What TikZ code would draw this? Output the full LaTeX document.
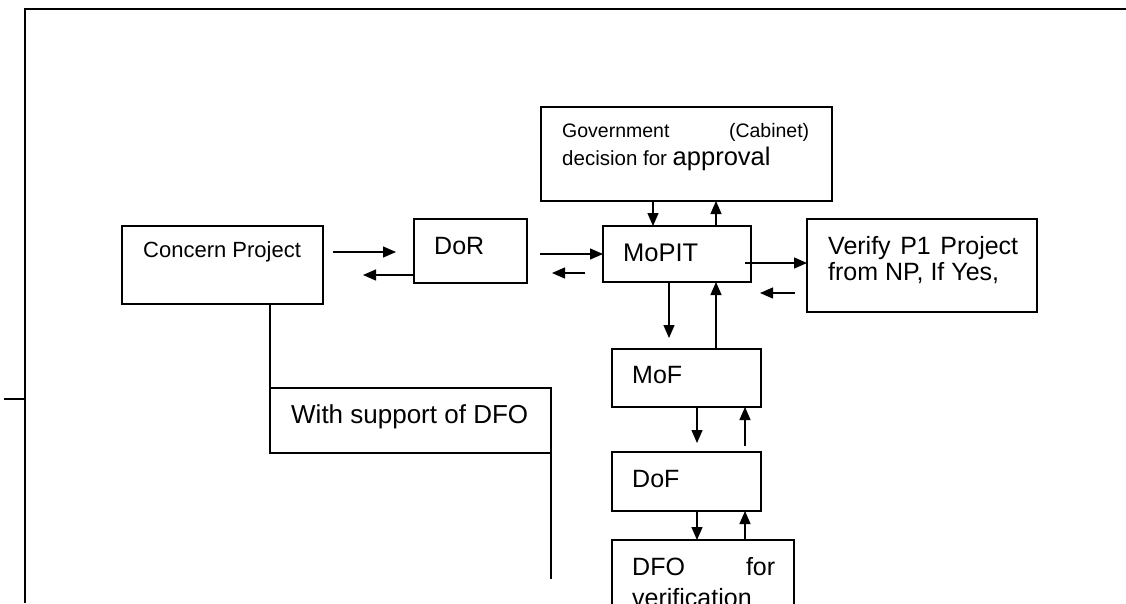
\documentclass[tikz,border=0pt]{standalone}
\usepackage{fontspec}
\setmainfont{Liberation Sans}
\usetikzlibrary{arrows.meta}
\begin{document}
\begin{tikzpicture}[x=1pt,y=-1pt,
  box/.style={draw,line width=1.6pt,inner sep=0pt,outer sep=0pt,anchor=north west},
  lbl/.style={anchor=base west,inner sep=0pt},
  arr/.style={line width=1.3pt,-{Triangle[length=13pt,width=11pt]}},
  conn/.style={line width=1.3pt},
  frame/.style={line width=2pt}]
\useasboundingbox (0,0) rectangle (1126,603);
\clip (0,0) rectangle (1126,603);
% outer frame
\draw[frame] (25,603) -- (25,8.5) -- (1126,8.5);
\draw[frame] (4,399) -- (25,399);
% boxes
\node[box,minimum width=201pt,minimum height=78pt] (concern) at (122,226) {};
\node[box,minimum width=113pt,minimum height=64pt] (dor) at (414,219) {};
\node[box,minimum width=291pt,minimum height=94pt] (gov) at (541,107) {};
\node[box,minimum width=148pt,minimum height=56pt] (mopit) at (603,226) {};
\node[box,minimum width=230pt,minimum height=93pt] (verify) at (807,219) {};
\node[box,minimum width=149pt,minimum height=58pt] (mof) at (612,349) {};
\node[box,minimum width=149pt,minimum height=59pt] (dof) at (612,452) {};
\node[box,minimum width=182pt,minimum height=100pt] (dfo) at (612,540) {};
\node[box,minimum width=281pt,minimum height=65pt] (support) at (270,388) {};
% texts
\node[lbl,font=\fontsize{22}{26}\selectfont] (tconcern) at (143,257) {Concern Project};
\node[lbl,font=\fontsize{25}{30}\selectfont] (tdor) at (434,254) {DoR};
\node[lbl,font=\fontsize{25.5}{30}\selectfont] (tmopit) at (623,261) {MoPIT};
\node[lbl,font=\fontsize{19.5}{24}\selectfont] (tgov1) at (562,137) {\makebox[247pt][s]{Government (Cabinet)}};
\node[lbl,font=\fontsize{20.5}{24}\selectfont] (tgov2) at (562,165) {decision for {\fontsize{25.5}{30}\selectfont approval}};
\node[lbl,font=\fontsize{25}{30}\selectfont] (tver1) at (828,254) {\makebox[190pt][s]{Verify P1 Project}};
\node[lbl,font=\fontsize{25}{30}\selectfont] (tver2) at (828,280) {from NP, If Yes,};
\node[lbl,font=\fontsize{25}{30}\selectfont] (tmof) at (632,383) {MoF};
\node[lbl,font=\fontsize{25}{30}\selectfont] (tdof) at (632,487) {DoF};
\node[lbl,font=\fontsize{25}{30}\selectfont] (tdfo1) at (632,575) {\makebox[143pt][s]{DFO for}};
\node[lbl,font=\fontsize{25}{30}\selectfont] (tdfo2) at (632,606) {verification};
\node[lbl,font=\fontsize{26}{30}\selectfont] (tsupport) at (291,423) {With support of DFO};
% plain connectors
\coordinate (sEnd) at (551,579);
\draw[conn] (concern.south -| support.north west) -- (support.north west);
\draw[conn] (support.south east) -- (support.south east |- sEnd);
% arrows
\coordinate (a1s) at (333,252); \coordinate (a1e) at (396,252);
\draw[arr] (a1s) -- (a1e);
\coordinate (a2e) at (363,275);
\draw[arr] (dor.west |- a2e) -- (a2e);
\coordinate (a3s) at (540,0);
\draw[arr] (a3s |- mopit.west) -- (mopit.west);
\coordinate (a4s) at (585,273); \coordinate (a4e) at (552,273);
\draw[arr] (a4s) -- (a4e);
\coordinate (x653) at (653,0); \coordinate (x716) at (716,0); \coordinate (x697) at (697,0);
\draw[arr] (gov.south -| x653) -- (mopit.north -| x653);
\draw[arr] (mopit.north -| x716) -- (gov.south -| x716);
\coordinate (a7s) at (745,263);
\draw[arr] (a7s) -- (verify.west |- a7s);
\coordinate (a8s) at (795,293); \coordinate (a8e) at (760,293);
\draw[arr] (a8s) -- (a8e);
\coordinate (a9e) at (669,338);
\draw[arr] (mopit.south -| a9e) -- (a9e);
\draw[arr] (mof.north -| x716) -- (mopit.south -| x716);
\coordinate (a11e) at (697,443);
\draw[arr] (mof.south -| a11e) -- (a11e);
\coordinate (a12s) at (745,446);
\draw[arr] (a12s) -- (mof.south -| a12s);
\draw[arr] (dof.south -| x697) -- (dfo.north -| x697);
\draw[arr] (dfo.north -| a12s) -- (dof.south -| a12s);
\end{tikzpicture}
\end{document}
